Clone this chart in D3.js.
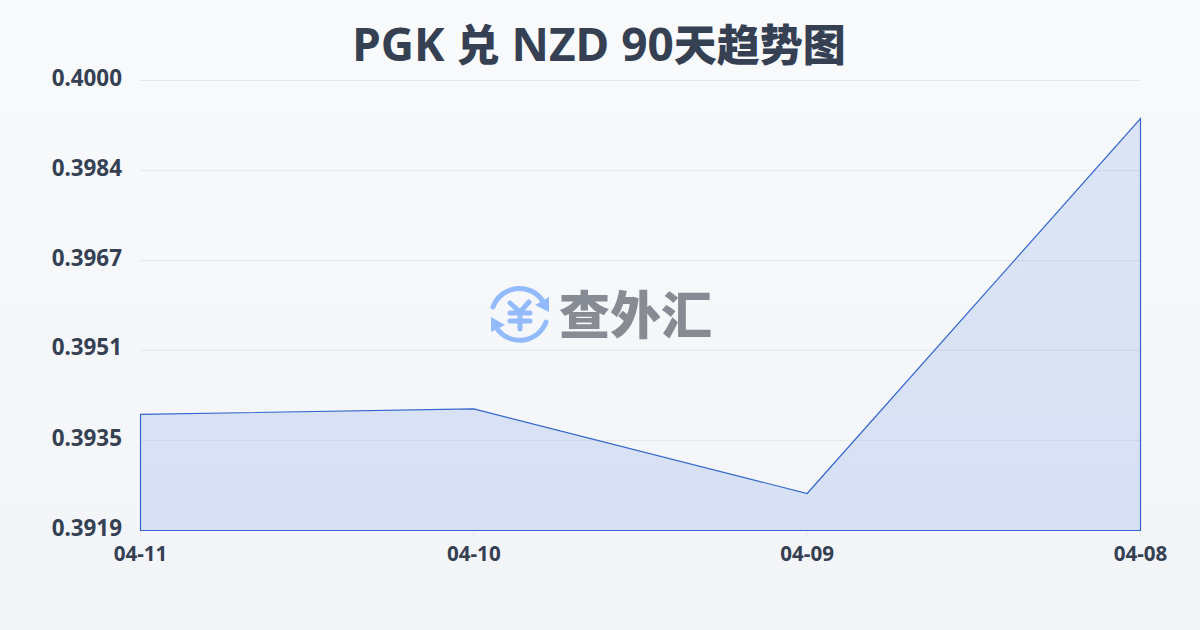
<!DOCTYPE html>
<html>
<head>
<meta charset="utf-8">
<script src="https://cdn.jsdelivr.net/npm/d3@7"></script>
<style>
	html, body { margin: 0; padding: 0; }
	body { width: 1200px; height: 630px; overflow: hidden; }
	text { font-family: "Noto Sans", "Noto Sans CJK SC", sans-serif; }
</style>
</head>
<body>
<div id="chart-area"></div>
<script>
// chart values
const titleParts = ["PGK ", "兑", " NZD 90", "天趋势图"];
const dates = ["04-11", "04-10", "04-09", "04-08"];
const rates = [0.39396, 0.39406, 0.39253, 0.39931];
const yTicks = [0.39186, 0.39349, 0.39512, 0.39674, 0.39837, 0.40000];
const yDomain = [0.39186, 0.40000];
const watermark = "查外汇";

const width = 1200, height = 630;
const margin = {top: 80, right: 60, bottom: 100, left: 140};

const svg = d3.select("#chart-area").append("svg")
	.attr("width", width)
	.attr("height", height)
	.style("display", "block");

// background
const grad = svg.append("defs").append("linearGradient")
	.attr("id", "bg")
	.attr("x1", 0).attr("y1", 0)
	.attr("x2", 0).attr("y2", 1);
grad.append("stop").attr("offset", "0%").attr("stop-color", "#f9fafc");
grad.append("stop").attr("offset", "100%").attr("stop-color", "#f2f4f7");
svg.append("rect").attr("width", width).attr("height", height).attr("fill", "url(#bg)");

// title, latin runs are a bit bigger than the chinese ones
svg.append("text")
	.attr("x", 599)
	.attr("y", 61)
	.attr("text-anchor", "middle")
	.attr("font-weight", 700)
	.attr("fill", "#354053")
	.attr("xml:space", "preserve")
	.style("white-space", "pre")
	.selectAll("tspan")
	.data(titleParts)
	.join("tspan")
	.attr("font-size", (d, i) => i % 2 === 0 ? 46 : 43)
	.attr("font-weight", (d, i) => i % 2 === 0 ? 700 : 800)
	.text(d => d);

const x = d3.scalePoint()
	.domain(dates)
	.range([margin.left, width - margin.right]);

const y = d3.scaleLinear()
	.domain(yDomain)
	.range([height - margin.bottom, margin.top]);

// grid and y labels
const yAxis = d3.axisLeft(y)
	.tickValues(yTicks)
	.tickFormat(d3.format(".4f"))
	.tickSize(-(width - margin.left - margin.right))
	.tickPadding(18);

svg.append("g")
	.attr("transform", "translate(" + margin.left + ",0)")
	.call(yAxis)
	.call(g => g.select(".domain").remove())
	.call(g => g.selectAll("line").attr("stroke", "#e5e7eb").attr("stroke-width", 1))
	.call(g => g.selectAll("text")
		.attr("y", -2)
		.attr("font-size", 22.4)
		.attr("font-weight", 700)
		.attr("fill", "#354053"));

// x labels
const xAxis = d3.axisBottom(x).tickSize(6).tickPadding(10);

svg.append("g")
	.attr("transform", "translate(0," + (height - margin.bottom) + ")")
	.call(xAxis)
	.call(g => g.select(".domain").remove())
	.call(g => g.selectAll("line").attr("stroke", "#e5e7eb"))
	.call(g => g.selectAll("text")
		.attr("font-size", 20.6)
		.attr("font-weight", 700)
		.attr("fill", "#354053"));

// area
const area = d3.area()
	.x((d, i) => x(dates[i]))
	.y0(y(yDomain[0]))
	.y1(d => y(d));

svg.append("path")
	.datum(rates)
	.attr("transform", "translate(0.5,0.5)")
	.attr("d", area)
	.attr("fill", "#1f5fd8")
	.attr("fill-opacity", 0.13)
	.attr("stroke", "#3366cc")
	.attr("stroke-width", 1.2);

// watermark logo
const logo = svg.append("g").attr("transform", "translate(520,315)");
const logoBlue = "#93bbfb";

logo.append("path")
	.attr("d", "M-27,-8 A28,28 0 0 1 22,-15")
	.attr("fill", "none").attr("stroke", logoBlue).attr("stroke-width", 5).attr("stroke-linecap", "round");
logo.append("path")
	.attr("d", "M26,7 A28,28 0 0 1 -22,15")
	.attr("fill", "none").attr("stroke", logoBlue).attr("stroke-width", 5).attr("stroke-linecap", "round");
logo.append("path").attr("d", "M29,-18 L15,-10 L29,-3 Z").attr("fill", logoBlue);
logo.append("path").attr("d", "M-29,2 L-15,10 L-29,17 Z").attr("fill", logoBlue);
logo.append("path")
	.attr("d", "M-10,-12 L0,-3 L9,-13 M-10,-2 H10 M-10,6 H10 M0,-3 V14")
	.attr("fill", "none").attr("stroke", logoBlue).attr("stroke-width", 5).attr("stroke-linecap", "round");

svg.append("text")
	.attr("x", 559)
	.attr("y", 334)
	.attr("font-size", 51)
	.attr("font-weight", 900)
	.attr("fill", "#868b94")
	.text(watermark);
</script>
</body>
</html>
